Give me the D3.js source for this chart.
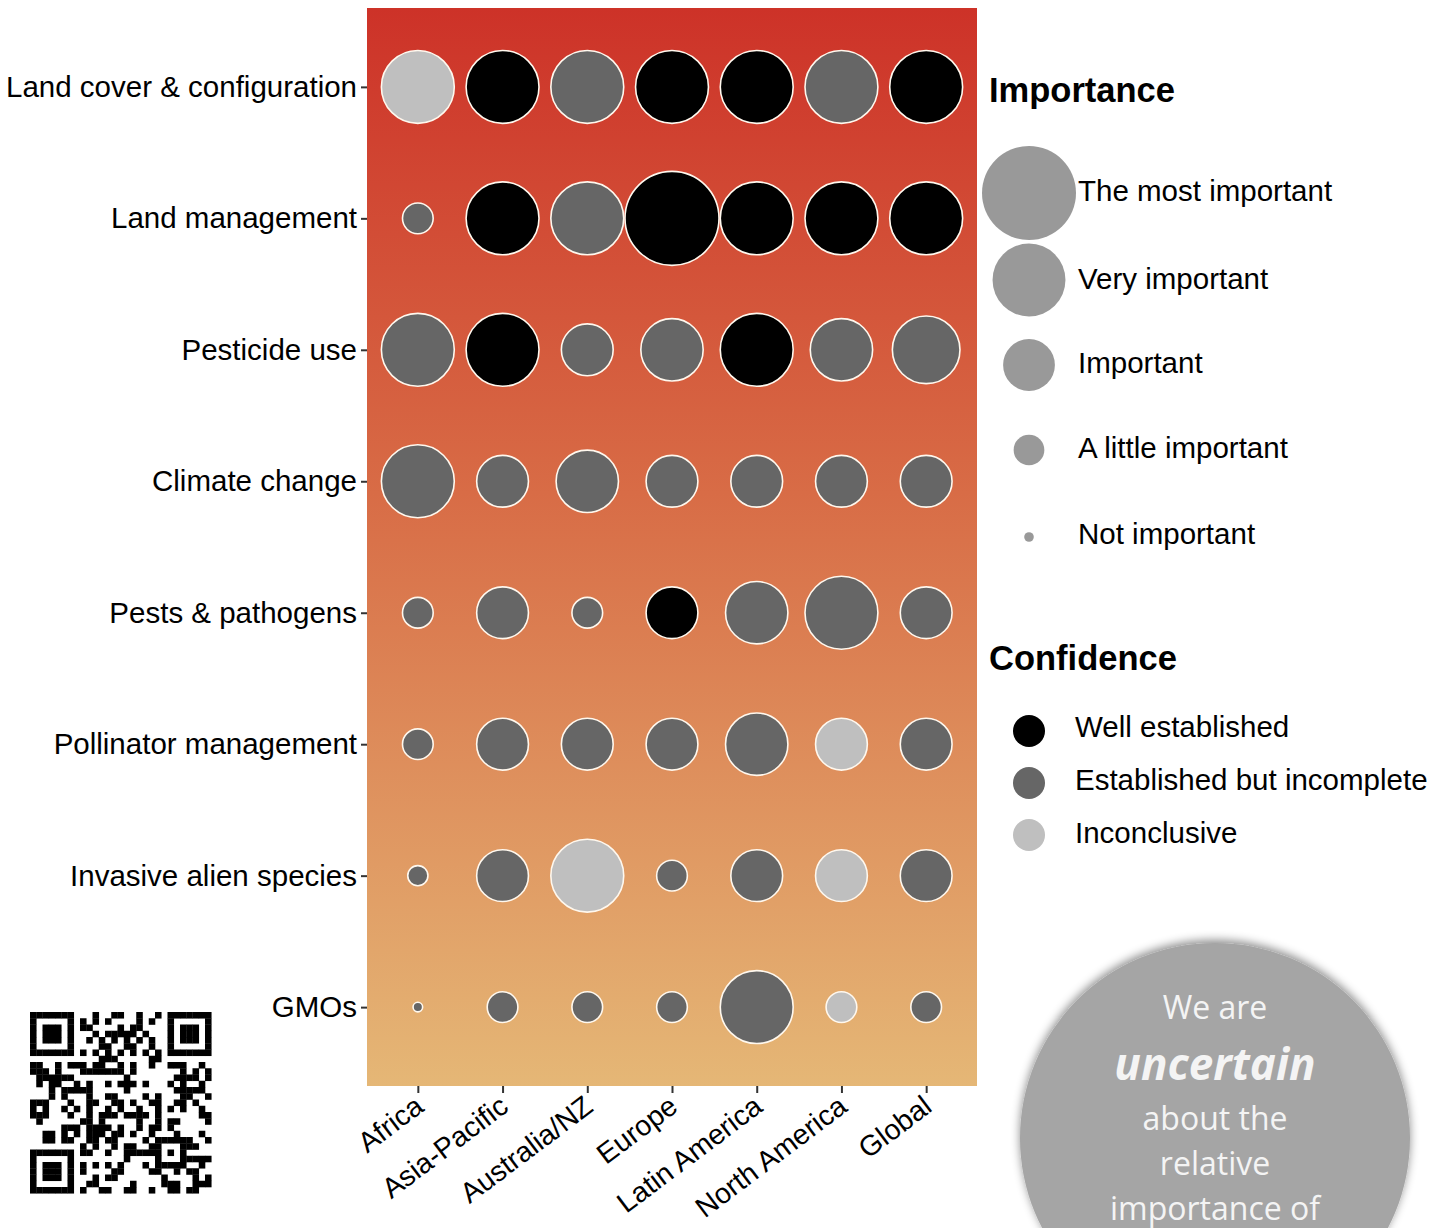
<!DOCTYPE html>
<html>
<head>
<meta charset="utf-8">
<script src="https://cdn.jsdelivr.net/npm/d3@7"></script>
<style>
  body { margin: 0; background: #fff; }
  svg { display: block; }
</style>
</head>
<body>
<svg id="chart" width="1432" height="1228"></svg>
<script>
var drivers = ["Land cover & configuration", "Land management", "Pesticide use", "Climate change",
               "Pests & pathogens", "Pollinator management", "Invasive alien species", "GMOs"];
var regions = ["Africa", "Asia-Pacific", "Australia/NZ", "Europe", "Latin America", "North America", "Global"];

// importance score per driver (0 = not important ... 4 = the most important), one value per region
var importance = [
  [3, 3, 3, 3, 3, 3, 3],
  [1, 3, 3, 4, 3, 3, 3],
  [3, 3, 2, 2.5, 3, 2.5, 2.75],
  [3, 2, 2.5, 2, 2, 2, 2],
  [1, 2, 1, 2, 2.5, 3, 2],
  [1, 2, 2, 2, 2.5, 2, 2],
  [0.5, 2, 3, 1, 2, 2, 2],
  [0, 1, 1, 1, 3, 1, 1]
];
// confidence per driver: W = well established, E = established but incomplete, I = inconclusive
var confidence = [
  ["I", "W", "E", "W", "W", "E", "W"],
  ["E", "W", "E", "W", "W", "W", "W"],
  ["E", "W", "E", "E", "W", "E", "E"],
  ["E", "E", "E", "E", "E", "E", "E"],
  ["E", "E", "E", "W", "E", "E", "E"],
  ["E", "E", "E", "E", "E", "I", "E"],
  ["E", "E", "I", "E", "E", "I", "E"],
  ["E", "E", "E", "E", "E", "I", "E"]
];

var importanceLevels = ["The most important", "Very important", "Important", "A little important", "Not important"];
var importanceValues = [4, 3, 2, 1, 0];
var confidenceCodes = ["W", "E", "I"];
var confidenceLabels = ["Well established", "Established but incomplete", "Inconclusive"];

var font = "'Liberation Sans', Arial, sans-serif";
var labelSize = 29.5;
var svg = d3.select("#chart");

var panel = { left: 367, right: 977, top: 8, bottom: 1086 };

var x = d3.scalePoint().domain(regions).range([panel.left, panel.right]).padding(0.6);
var y = d3.scalePoint().domain(drivers).range([panel.top, panel.bottom]).padding(0.6);
var r = d3.scaleLinear().domain([0, 4]).range([4.8, 47]);
var fill = d3.scaleOrdinal().domain(confidenceCodes).range(["#000000", "#666666", "#bfbfbf"]);

// background gradient
var defs = svg.append("defs");
var grad = defs.append("linearGradient").attr("id", "bg")
  .attr("x1", 0).attr("y1", 0).attr("x2", 0).attr("y2", 1);
grad.append("stop").attr("offset", "0%").attr("stop-color", "#cd3228");
grad.append("stop").attr("offset", "45%").attr("stop-color", "#d86c46");
grad.append("stop").attr("offset", "100%").attr("stop-color", "#e5b776");

var shadow = defs.append("filter").attr("id", "soft").attr("x", "-20%").attr("y", "-20%")
  .attr("width", "140%").attr("height", "140%");
shadow.append("feGaussianBlur").attr("in", "SourceAlpha").attr("stdDeviation", 5);
shadow.append("feColorMatrix").attr("type", "matrix")
  .attr("values", "0 0 0 0 0  0 0 0 0 0  0 0 0 0 0  0 0 0 0.45 0");
shadow.append("feOffset").attr("dx", 0).attr("dy", -3).attr("result", "off");
var merge = shadow.append("feMerge");
merge.append("feMergeNode").attr("in", "off");
merge.append("feMergeNode").attr("in", "SourceGraphic");

svg.append("rect")
  .attr("x", panel.left).attr("y", panel.top)
  .attr("width", panel.right - panel.left).attr("height", panel.bottom - panel.top)
  .attr("fill", "url(#bg)");

// bubbles
var cells = [];
drivers.forEach(function(d, i) {
  regions.forEach(function(g, j) {
    cells.push({ driver: d, region: g, imp: importance[i][j], conf: confidence[i][j] });
  });
});

svg.append("g").selectAll("circle")
  .data(cells)
  .enter()
  .append("circle")
  .attr("cx", function(d) { return x(d.region); })
  .attr("cy", function(d) { return y(d.driver); })
  .attr("r", function(d) { return r(d.imp); })
  .attr("fill", function(d) { return fill(d.conf); })
  .attr("stroke", "#fff8ee")
  .attr("stroke-width", 1.6);

// axes
var yAxis = svg.append("g")
  .attr("transform", "translate(" + panel.left + ",0)")
  .call(d3.axisLeft(y).tickSize(6).tickPadding(4));
var xAxis = svg.append("g")
  .attr("transform", "translate(0," + panel.bottom + ")")
  .call(d3.axisBottom(x).tickSize(7));
[yAxis, xAxis].forEach(function(a) {
  a.select(".domain").remove();
  a.selectAll(".tick line").attr("stroke", "#333").attr("stroke-width", 2);
  a.selectAll("text").attr("font-family", font).attr("font-size", labelSize).attr("fill", "#000");
});
xAxis.selectAll("text")
  .attr("font-size", 28.5)
  .attr("text-anchor", "end")
  .attr("dy", null)
  .attr("y", 0)
  .attr("transform", "translate(7,24) rotate(-37)");

// importance legend
var lx = 1029;
svg.append("text").attr("x", 989).attr("y", 102)
  .attr("font-family", font).attr("font-size", 34.5).attr("font-weight", "bold")
  .text("Importance");
var legY = [193, 280, 365, 450, 537];
var legTextY = [201, 289, 373, 458, 544];
var leg = svg.append("g").selectAll("g")
  .data(importanceLevels)
  .enter()
  .append("g");
leg.append("circle")
  .attr("cx", lx)
  .attr("cy", function(d, i) { return legY[i]; })
  .attr("r", function(d, i) { return r(importanceValues[i]); })
  .attr("fill", "#999999");
leg.append("text")
  .attr("x", 1078)
  .attr("y", function(d, i) { return legTextY[i]; })
  .attr("font-family", font).attr("font-size", labelSize)
  .text(function(d) { return d; });

// confidence legend
svg.append("text").attr("x", 989).attr("y", 670)
  .attr("font-family", font).attr("font-size", 34.5).attr("font-weight", "bold")
  .text("Confidence");
var confY = [731, 783, 835];
var confTextY = [737, 790, 843];
var cleg = svg.append("g").selectAll("g")
  .data(confidenceCodes)
  .enter()
  .append("g");
cleg.append("circle")
  .attr("cx", lx)
  .attr("cy", function(d, i) { return confY[i]; })
  .attr("r", 16)
  .attr("fill", function(d) { return fill(d); });
cleg.append("text")
  .attr("x", 1075)
  .attr("y", function(d, i) { return confTextY[i]; })
  .attr("font-family", font).attr("font-size", labelSize)
  .text(function(d, i) { return confidenceLabels[i]; });

// QR-like block (decorative)
var qrN = 29, qrSize = 6.25, qrX = 30, qrY = 1012;
var qr = svg.append("g").attr("transform", "translate(" + qrX + "," + qrY + ")");
function inFinder(i, j) {
  return (i < 8 && j < 8) || (i < 8 && j >= qrN - 8) || (i >= qrN - 8 && j < 8);
}
function finderOn(i, j) {
  var a = i < 8 ? i : i - (qrN - 7);
  var b = j < 8 ? j : j - (qrN - 7);
  if (a < 0 || b < 0 || a > 6 || b > 6) return false;
  if (a === 0 || a === 6 || b === 0 || b === 6) return true;
  return a >= 2 && a <= 4 && b >= 2 && b <= 4;
}
var modules = [];
for (var i = 0; i < qrN; i++) {
  for (var j = 0; j < qrN; j++) {
    var on;
    if (inFinder(i, j)) on = finderOn(i, j);
    else if (i >= 20 && i <= 24 && j >= 20 && j <= 24) {
      var a = Math.max(Math.abs(i - 22), Math.abs(j - 22));
      on = a !== 1;
    } else if (i === 6) on = j % 2 === 0;
    else if (j === 6) on = i % 2 === 0;
    else on = ((i * 7 + j * 11 + (i * j) % 5 + (i ^ j)) % 7) < 3;
    if (on) modules.push([i, j]);
  }
}
qr.selectAll("rect").data(modules).enter().append("rect")
  .attr("x", function(d) { return d[1] * qrSize; })
  .attr("y", function(d) { return d[0] * qrSize; })
  .attr("width", qrSize + 0.3).attr("height", qrSize + 0.3)
  .attr("fill", "#000");

// callout bubble
var cb = svg.append("g");
cb.append("circle").attr("cx", 1215).attr("cy", 1138).attr("r", 195)
  .attr("fill", "#a5a5a5").attr("filter", "url(#soft)");
var calloutLines = [
  { t: "We are", y: 1019, size: 32, w: "normal", s: "normal" },
  { t: "uncertain", y: 1080, size: 44, w: "bold", s: "italic" },
  { t: "about the", y: 1130, size: 32, w: "normal", s: "normal" },
  { t: "relative", y: 1175, size: 32, w: "normal", s: "normal" },
  { t: "importance of", y: 1220, size: 32, w: "normal", s: "normal" }
];
cb.selectAll("text").data(calloutLines).enter().append("text")
  .attr("x", 1215)
  .attr("y", function(d) { return d.y; })
  .attr("text-anchor", "middle")
  .attr("font-family", "'Open Sans', Lato, sans-serif")
  .attr("font-size", function(d) { return d.size; })
  .attr("font-weight", function(d) { return d.w; })
  .attr("font-style", function(d) { return d.s; })
  .attr("fill", "#f4f4f4")
  .text(function(d) { return d.t; });
</script>
</body>
</html>
